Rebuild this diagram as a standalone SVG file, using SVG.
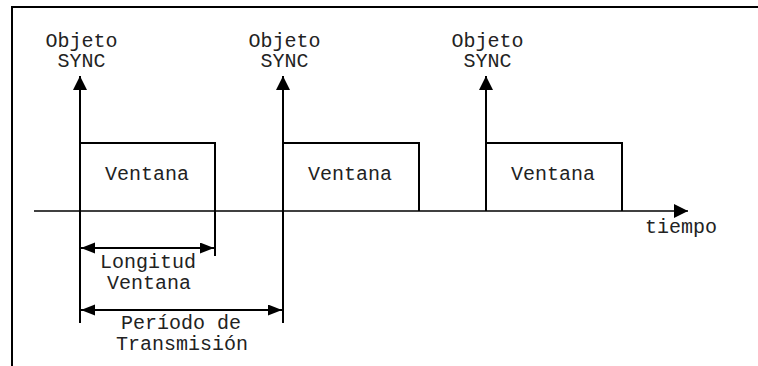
<svg xmlns="http://www.w3.org/2000/svg" width="758" height="366" viewBox="0 0 758 366">
<style>
text{font-family:"Liberation Mono","Courier New",monospace;font-size:20px;fill:#222;text-anchor:middle}
.ln{stroke:#000;stroke-width:2;fill:none}
.ax{stroke:#000;stroke-width:1.6;fill:none}
.box{stroke:#000;stroke-width:2;fill:#fff}
</style>
<defs>
<marker id="ah" markerUnits="userSpaceOnUse" markerWidth="16" markerHeight="14" refX="14" refY="7" orient="auto-start-reverse" viewBox="0 0 16 14">
<path d="M0,0 L14,7 L0,14 Z" fill="#000"/>
</marker>
<marker id="ahs" markerUnits="userSpaceOnUse" markerWidth="16" markerHeight="12" refX="14" refY="5.5" orient="auto-start-reverse" viewBox="0 0 16 12">
<path d="M0,0 L14,5.5 L0,11 Z" fill="#000"/>
</marker>
</defs>
<rect width="758" height="366" fill="#fff"/>
<path class="ln" d="M12,366 V7 H758"/>
<g id="connectors">
<line class="ax" x1="34" y1="211" x2="688" y2="211" marker-end="url(#ah)"/>
<line class="ln" x1="80" y1="323" x2="80" y2="76" marker-end="url(#ah)"/>
<line class="ln" x1="283" y1="323" x2="283" y2="76" marker-end="url(#ah)"/>
<line class="ln" x1="486" y1="211" x2="486" y2="76" marker-end="url(#ah)"/>
<line class="ln" x1="215" y1="211" x2="215" y2="256"/>
<line class="ln" x1="81" y1="248" x2="214" y2="248" marker-start="url(#ahs)" marker-end="url(#ahs)"/>
<line class="ln" x1="81" y1="310" x2="282" y2="310" marker-start="url(#ahs)" marker-end="url(#ahs)"/>
</g>
<g id="ventana1"><path class="ln" d="M80,211 V143 H215 V211"/><text x="147" y="180">Ventana</text></g>
<g id="ventana2"><path class="ln" d="M283,211 V143 H419 V211"/><text x="350" y="180">Ventana</text></g>
<g id="ventana3"><path class="ln" d="M486,211 V143 H622 V211"/><text x="553" y="180">Ventana</text></g>
<g id="sync1"><text x="81.5" y="47">Objeto</text><text x="81.5" y="67">SYNC</text></g>
<g id="sync2"><text x="284.5" y="47">Objeto</text><text x="284.5" y="67">SYNC</text></g>
<g id="sync3"><text x="487.5" y="47">Objeto</text><text x="487.5" y="67">SYNC</text></g>
<g id="tiempo"><text x="681" y="233">tiempo</text></g>
<g id="longitud"><text x="148" y="268">Longitud</text><text x="149" y="289">Ventana</text></g>
<g id="periodo"><text x="181" y="329">Período de</text><text x="182" y="350">Transmisión</text></g>
</svg>
